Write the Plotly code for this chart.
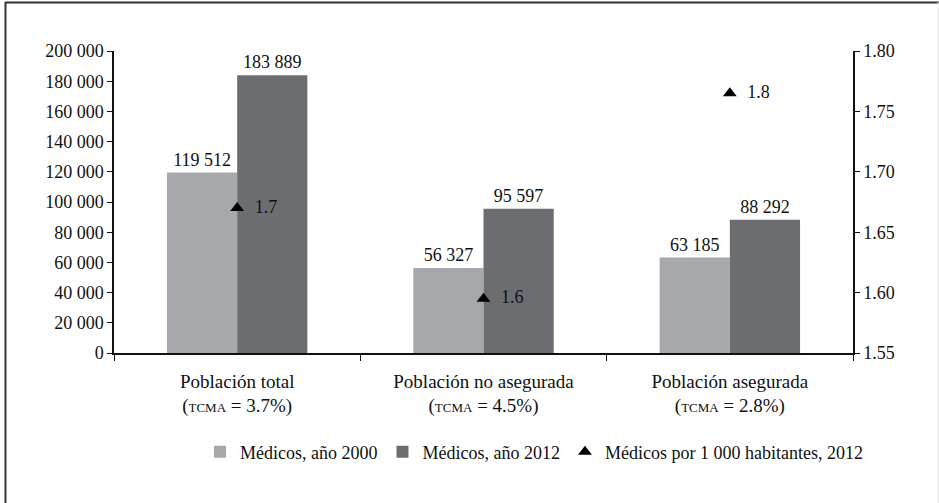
import plotly.graph_objects as go

categories = [
    "Población total<br>(<span style='font-size:13px'>TCMA</span> = 3.7%)",
    "Población no asegurada<br>(<span style='font-size:13px'>TCMA</span> = 4.5%)",
    "Población asegurada<br>(<span style='font-size:13px'>TCMA</span> = 2.8%)",
]
medicos_2000 = [119512, 56327, 63185]
medicos_2012 = [183889, 95597, 88292]
por_1000 = [1.67, 1.595, 1.765]

FONT = "Liberation Serif, Times New Roman, serif"
FS = 18
W, H = 939, 503
L, R, T, B = 114, 86, 51, 150
pw, ph = W - L - R, H - T - B

def px_x(x):
    return (x - L) / pw

def px_y(y):
    return (H - B - y) / ph

fig = go.Figure()
fig.add_trace(go.Bar(
    x=categories, y=medicos_2000, name="Médicos, año 2000",
    marker=dict(color="#a7a8ab", line=dict(width=0)),
    texttemplate="%{y:,d}", textposition="outside",
    textfont=dict(size=FS, color="#111"), cliponaxis=False,
))
fig.add_trace(go.Bar(
    x=categories, y=medicos_2012, name="Médicos, año 2012",
    marker=dict(color="#6c6d71", line=dict(width=0)),
    texttemplate="%{y:,d}", textposition="outside",
    textfont=dict(size=FS, color="#111"), cliponaxis=False,
))
fig.add_trace(go.Scatter(
    x=categories, y=por_1000, name="Médicos por 1 000 habitantes, 2012",
    yaxis="y2", mode="markers+text",
    marker=dict(symbol="triangle-up", size=12, color="#000"),
    texttemplate="  %{y:.1f}", textposition="middle right",
    textfont=dict(size=FS, color="#111"), cliponaxis=False,
))

fig.update_layout(
    width=W, height=H,
    margin=dict(l=L, r=R, t=T, b=B, pad=0),
    paper_bgcolor="white", plot_bgcolor="white",
    font=dict(family=FONT, size=FS, color="#111"),
    separators=". ",
    barmode="group", bargap=0.43, bargroupgap=0,
    showlegend=True,
    legend=dict(orientation="h", x=px_x(200), y=px_y(452), yanchor="middle",
                xanchor="left", font=dict(size=18), itemwidth=30,
                traceorder="normal", bgcolor="rgba(0,0,0,0)"),
    xaxis=dict(
        showline=True, linecolor="#111", linewidth=1.5,
        ticks="outside", tickson="boundaries", ticklen=6, tickcolor="#111",
        tickfont=dict(size=19), showgrid=False, ticklabelstandoff=10,
    ),
    yaxis=dict(
        range=[0, 200000], dtick=20000, tickformat=",d",
        showline=True, linecolor="#111", linewidth=1.5,
        ticks="outside", ticklen=5, tickcolor="#111",
        showgrid=False, zeroline=False, tickfont=dict(size=FS),
    ),
    yaxis2=dict(
        range=[1.55, 1.80], dtick=0.05, tickformat=".2f",
        overlaying="y", side="right",
        showline=True, linecolor="#111", linewidth=1.5,
        ticks="outside", ticklen=5, tickcolor="#111",
        showgrid=False, zeroline=False, tickfont=dict(size=FS),
    ),
    shapes=[
        dict(type="line", xref="paper", yref="paper",
             x0=px_x(5.5), x1=px_x(5.5), y0=px_y(2), y1=px_y(503),
             line=dict(color="#333", width=2)),
        dict(type="line", xref="paper", yref="paper",
             x0=px_x(5), x1=px_x(939), y0=px_y(2.5), y1=px_y(2.5),
             line=dict(color="#333", width=2)),
        dict(type="line", xref="paper", yref="paper",
             x0=px_x(938), x1=px_x(938), y0=px_y(2), y1=px_y(503),
             line=dict(color="#e6e6e6", width=1)),
    ],
)

fig.write_html("out.html", config={"displayModeBar": False},
               post_script="document.body.style.margin='0';document.body.style.overflow='hidden';")
